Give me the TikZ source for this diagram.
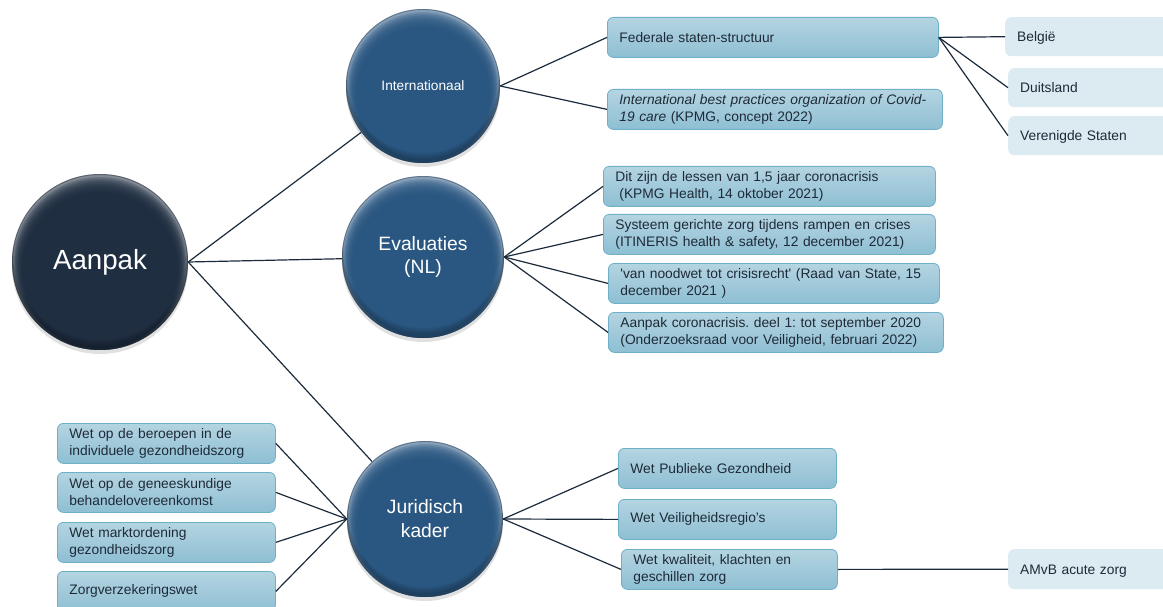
\documentclass[tikz,border=0pt]{standalone}
\usepackage{fontspec}
\setmainfont{Liberation Sans}
\frenchspacing
\definecolor{navy}{HTML}{1C2B3E}
\definecolor{steel}{HTML}{275580}
\definecolor{boxtop}{HTML}{B4D4E1}
\definecolor{boxbot}{HTML}{8EBFD3}
\definecolor{boxline}{HTML}{6FAFC8}
\definecolor{lightbox}{HTML}{DCEBF1}
\definecolor{linecol}{HTML}{1C2B3C}
\definecolor{txt}{HTML}{1E2A38}
\newcommand\ballfill[2]{%
  \coordinate (bc) at (path picture bounding box.center);
  \fill[#1!55!white] (path picture bounding box.south west) rectangle (path picture bounding box.north east);
  \foreach \k in {0,...,9}{%
    \fill[#1, opacity=0.25] ([yshift={-(2+0.7*\k)*1pt}]bc) circle[radius={(#2-1-1.0*\k)*1pt}];
  }
  \foreach \k in {0,...,4}{%
    \fill[black, opacity=0.05, even odd rule] (bc) circle[radius={(#2+2)*1pt}] ([yshift={(3+1.5*\k)*1pt}]bc) circle[radius={(#2-1)*1pt}];
  }
  \draw[#1!50!black, line width=2pt, opacity=0.35] (bc) circle[radius={#2*1pt}];
}
\begin{document}
\begin{tikzpicture}[x=1pt,y=-1pt,
  ball/.style 2 args={circle, inner sep=0pt, minimum size={2*#2*1pt}, text=white, align=center, path picture={\ballfill{#1}{#2}}},
  boxfont/.style={font=\fontsize{13.8}{17}\selectfont},
  box/.style={draw=boxline, line width=0.8pt, rounded corners=6pt, top color=boxtop, bottom color=boxbot, inner xsep=12pt, inner ysep=0pt, minimum height=40pt, align=left, text=txt, boxfont, anchor=north west},
  lbox/.style={fill=lightbox, rounded corners=6pt, inner xsep=12pt, inner ysep=0pt, minimum height=39pt, text height=11pt, text depth=1pt, align=left, text=txt, boxfont, anchor=north west, text width=146pt},
  link/.style={draw=linecol, line width=1.2pt},
  shadowc/.style={fill=black, opacity=0.12}
]
\useasboundingbox (0,0) rectangle (1163,607);
\clip (0,0) rectangle (1163,607);
\fill[white] (0,0) rectangle (1163,607);

% shadows
\fill[shadowc] (100,266) circle[radius=88];
\fill[shadowc] (423,90) circle[radius=77];
\fill[shadowc] (423,261) circle[radius=81];
\fill[shadowc] (425,523) circle[radius=78];

% circles
\node[ball={navy}{88}, font=\fontsize{27.7}{33}\selectfont] (A) at (100,262) {Aanpak};
\node[ball={steel}{77}, font=\fontsize{13.7}{17}\selectfont] (I) at (423,86) {Internationaal};
\node[ball={steel}{81}, font=\fontsize{19.3}{23}\selectfont] (E) at (423,257) {Evaluaties\\(NL)};
\node[ball={steel}{78}, font=\fontsize{19.3}{24}\selectfont] (J) at (425,519) {Juridisch\\kader};

% Internationaal branch
\node[box, text width=307pt] (F) at (607,17) {Federale staten-structuur};
\node[box, text width=311pt] (IB) at (607,89) {\textit{International best practices organization of Covid-}\\\textit{19 care} (KPMG, concept 2022)};
\node[lbox] (BE) at (1005,17) {België};
\node[lbox] (DU) at (1008,68) {Duitsland};
\node[lbox] (VS) at (1008,116) {Verenigde Staten};

% Evaluaties branch
\node[box, text width=308pt] (D1) at (603,166) {Dit zijn de lessen van 1,5 jaar coronacrisis\\\hspace*{4pt}(KPMG Health, 14 oktober 2021)};
\node[box, text width=308pt] (D2) at (603,214) {Systeem gerichte zorg tijdens rampen en crises\\(ITINERIS health \& safety, 12 december 2021)};
\node[box, text width=307pt] (D3) at (608,263) {\textquotesingle van noodwet tot crisisrecht\textquotesingle{} (Raad van State, 15\\december 2021 )};
\node[box, text width=311pt] (D4) at (608,312) {Aanpak coronacrisis. deel 1: tot september 2020\\(Onderzoeksraad voor Veiligheid, februari 2022)};

% Juridisch branch left
\node[box, text width=194pt] (L1) at (57,423) {Wet op de beroepen in de\\individuele gezondheidszorg};
\node[box, text width=194pt] (L2) at (57,472) {Wet op de geneeskundige\\behandelovereenkomst};
\node[box, text width=194pt] (L3) at (57,522) {Wet marktordening\\gezondheidszorg};
\node[box, text width=194pt] (L4) at (57,571) {Zorgverzekeringswet};

% Juridisch branch right
\node[box, text width=194pt] (R1) at (618,448) {Wet Publieke Gezondheid};
\node[box, text width=194pt] (R2) at (618,499) {Wet Veiligheidsregio’s};
\node[box, text width=192pt] (R3) at (621,549) {Wet kwaliteit, klachten en\\geschillen zorg};
\node[lbox, minimum height=40pt] (AM) at (1008,549) {AMvB acute zorg};

% connectors
\draw[link] (A.east) -- (I);
\draw[link] (A.east) -- (E);
\draw[link] (A.east) -- (J);
\draw[link] (I.east) -- (F.west);
\draw[link] (I.east) -- (IB.west);
\draw[link] (F.east) -- (BE.west);
\draw[link] (F.east) -- (DU.west);
\draw[link] (F.east) -- (VS.west);
\draw[link] (E.east) -- (D1.west);
\draw[link] (E.east) -- (D2.west);
\draw[link] (E.east) -- (D3.west);
\draw[link] (E.east) -- (D4.west);
\draw[link] (J.west) -- (L1.east);
\draw[link] (J.west) -- (L2.east);
\draw[link] (J.west) -- (L3.east);
\draw[link] (J.west) -- (L4.east);
\draw[link] (J.east) -- (R1.west);
\draw[link] (J.east) -- (R2.west);
\draw[link] (J.east) -- (R3.west);
\draw[link] (R3.east) -- (AM.west);
\end{tikzpicture}
\end{document}
